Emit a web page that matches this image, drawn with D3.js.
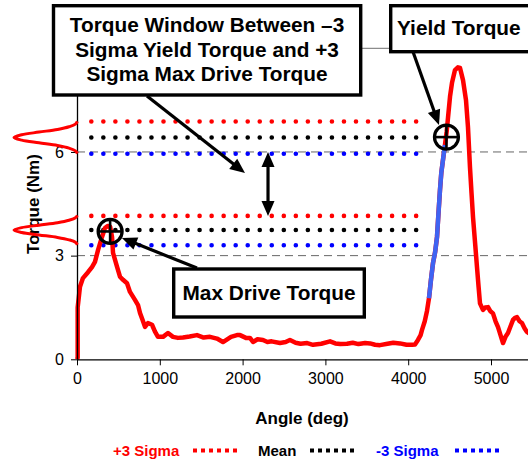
<!DOCTYPE html>
<html>
<head>
<meta charset="utf-8">
<script src="https://cdn.jsdelivr.net/npm/d3@7/dist/d3.min.js"></script>
<style>
  html, body { margin: 0; padding: 0; background: #fff; }
  svg { display: block; font-family: "Liberation Sans", Arial, sans-serif; }
</style>
</head>
<body>
<svg id="chart" width="528" height="461"></svg>
<script>
// ---------------- DATA ----------------
const angleDeg = [0, 8, 8, 36, 72, 133, 181, 217, 254, 302, 338, 370, 400, 423, 435, 483, 519, 556, 604, 640, 700, 737, 761, 790, 821, 857, 906, 942, 978, 1039, 1099, 1159, 1220, 1280, 1360, 1449, 1530, 1606, 1690, 1763, 1860, 1932, 1969, 2040, 2089, 2126, 2180, 2246, 2300, 2350, 2452, 2520, 2572, 2640, 2700, 2780, 2850, 2950, 3056, 3120, 3180, 3261, 3330, 3400, 3480, 3539, 3600, 3659, 3750, 3820, 3900, 3980, 4046, 4082, 4118, 4150, 4167, 4200, 4227, 4251, 4275, 4300, 4325, 4348, 4365, 4384, 4400, 4425, 4444, 4465, 4481, 4505, 4529, 4565, 4600, 4626, 4662, 4698, 4722, 4746, 4765, 4783, 4810, 4831, 4850, 4867, 4903, 4930, 4964, 4990, 5024, 5055, 5085, 5115, 5145, 5175, 5205, 5235, 5266, 5290, 5314, 5345, 5374, 5405, 5435, 5460];
const torqueNm = [0, 0.05, 1.5, 2.1, 2.35, 2.52, 2.67, 2.82, 3.16, 3.54, 3.8, 3.86, 3.84, 3.54, 3.08, 2.68, 2.39, 2.3, 2.2, 1.95, 1.72, 1.57, 1.34, 1.15, 0.94, 1.05, 1.0, 0.8, 0.65, 0.65, 0.76, 0.65, 0.62, 0.63, 0.66, 0.7, 0.63, 0.65, 0.6, 0.5, 0.65, 0.7, 0.7, 0.62, 0.62, 0.5, 0.58, 0.56, 0.5, 0.52, 0.47, 0.5, 0.56, 0.48, 0.45, 0.47, 0.42, 0.45, 0.52, 0.46, 0.44, 0.45, 0.48, 0.44, 0.47, 0.46, 0.42, 0.41, 0.45, 0.48, 0.46, 0.42, 0.42, 0.43, 0.56, 0.7, 0.85, 1.1, 1.4, 1.77, 2.3, 2.79, 3.1, 3.54, 4.2, 4.9, 5.4, 5.86, 6.2, 6.6, 7.0, 7.6, 8.0, 8.37, 8.45, 8.43, 8.08, 7.5, 6.72, 5.56, 4.8, 4.11, 3.3, 2.66, 2.1, 1.62, 1.43, 1.5, 1.51, 1.4, 1.33, 1.1, 0.93, 0.7, 0.47, 0.65, 0.76, 0.95, 1.14, 1.2, 1.22, 1.1, 1.05, 0.9, 0.79, 0.75];

// yield ramp (drawn in blue)
const yieldRangeDeg = [4251, 4444];

// sigma bands: [+3 sigma, mean, -3 sigma]
const sigmaNames = ["+3 Sigma", "Mean", "-3 Sigma"];
const yieldSigmaNm = [6.88, 6.42, 5.95];
const driveSigmaNm = [4.15, 3.74, 3.30];
const sigmaLineDeg = [173, 4103];

// distribution profile (standard score vs relative density)
const profileZ = [-3, -2.5, -2, -1.5, -1, -0.5, 0, 0.5, 1, 1.5, 2, 2.5, 3];
const profileDensity = [0.01, 0.04, 0.14, 0.32, 0.61, 0.88, 1, 0.88, 0.61, 0.32, 0.14, 0.04, 0.01];

// annotated points
const maxDrivePoint = [400, 3.70];
const yieldPoint = [4462, 6.43];

const xTicks = [0, 1000, 2000, 3000, 4000, 5000];
const yTicks = [0, 3, 6, 9];

// ---------------- LAYOUT ----------------
const svg = d3.select("#chart");
const X0 = 77, X1 = 532.4, Y0 = 359.3, Y1 = 48.3;
const x = d3.scaleLinear().domain([0, 5500]).range([X0, X1]);
const y = d3.scaleLinear().domain([0, 9]).range([Y0, Y1]);

const RED = "#ff0000", BLUE = "#0000ff", RAMP = "#3f63f2";
const sigmaColors = [RED, "#000000", BLUE];

// plot top border
svg.append("line").attr("x1", X0).attr("x2", X1).attr("y1", y(9)).attr("y2", y(9))
  .attr("stroke", "#8c8c8c").attr("stroke-width", 1.2);

// gridlines
svg.append("g").selectAll("line").data([3, 6]).join("line")
  .attr("x1", X0).attr("x2", X1).attr("y1", d => y(d)).attr("y2", d => y(d))
  .attr("stroke", "#666").attr("stroke-width", 1).attr("stroke-dasharray", "8,5");

// sigma dotted lines
function sigmaLines(vals) {
  svg.append("g").selectAll("line").data(vals).join("line")
    .attr("x1", x(sigmaLineDeg[0])).attr("x2", x(sigmaLineDeg[1]))
    .attr("y1", d => y(d)).attr("y2", d => y(d))
    .attr("stroke", (d, i) => sigmaColors[i])
    .attr("stroke-width", 4.6).attr("stroke-linecap", "round")
    .attr("stroke-dasharray", "0,12.03");
}
sigmaLines(yieldSigmaNm);
sigmaLines(driveSigmaNm);

// torque curve
const pts = angleDeg.map((a, i) => [a, torqueNm[i]]);
const line = d3.line().x(d => x(d[0])).y(d => y(d[1]));
svg.append("path").datum(pts).attr("d", line).attr("fill", "none")
  .attr("stroke", RED).attr("stroke-width", 4.5).attr("stroke-linejoin", "round");
const ramp = pts.filter(d => d[0] >= yieldRangeDeg[0] && d[0] <= yieldRangeDeg[1]);
svg.append("path").datum(ramp).attr("d", line).attr("fill", "none")
  .attr("stroke", RAMP).attr("stroke-width", 4.5).attr("stroke-linejoin", "round");

// axes
const xAxis = svg.append("g").attr("transform", `translate(0,${Y0})`)
  .call(d3.axisBottom(x).tickValues(xTicks).tickSize(6).tickPadding(7).tickFormat(d3.format("d")));
xAxis.select(".domain").attr("d", `M${X0},0.5H${X1}`).attr("stroke", "#000").attr("stroke-width", 1.3);
xAxis.selectAll("text").attr("font-size", 16).attr("fill", "#000").attr("font-family", "Liberation Sans, Arial");

const yAxis = svg.append("g").attr("transform", `translate(${X0},0)`)
  .call(d3.axisLeft(y).tickValues(yTicks).tickSize(6).tickPadding(7));
yAxis.select(".domain").attr("d", `M0.5,${Y0}V${Y1}`).attr("stroke", "#000").attr("stroke-width", 1.3);
yAxis.selectAll("text").attr("font-size", 16).attr("fill", "#000").attr("font-family", "Liberation Sans, Arial");

// axis titles
svg.append("text").attr("x", 302).attr("y", 424).attr("text-anchor", "middle")
  .attr("font-size", 17).attr("font-weight", "bold").text("Angle (deg)");
svg.append("text").attr("transform", "translate(39,204) rotate(-90)").attr("text-anchor", "middle")
  .attr("font-size", 17).attr("font-weight", "bold").text("Torque (Nm)");

// distribution profiles left of the axis
const dens = d3.scaleLinear().domain([0, 1]).range([X0 + 1, 14]);
function profile(vals) {
  const mean = vals[1], sigma = (vals[0] - vals[2]) / 6;
  const p = profileZ.map((z, i) => [dens(profileDensity[i]), y(mean + z * sigma)]);
  svg.append("path").datum(p).attr("d", d3.line().curve(d3.curveCatmullRom))
    .attr("fill", "none").attr("stroke", RED).attr("stroke-width", 3);
}
profile(yieldSigmaNm);
profile(driveSigmaNm);

// circle markers with crosshair
function crossCircle(pt) {
  const cx = x(pt[0]), cy = y(pt[1]), r = 12;
  const g = svg.append("g").attr("stroke", "#000").attr("stroke-width", 3.2).attr("fill", "none");
  g.append("circle").attr("cx", cx).attr("cy", cy).attr("r", r);
  g.append("line").attr("x1", cx - r).attr("x2", cx + r).attr("y1", cy).attr("y2", cy).attr("stroke-width", 2.6);
  g.append("line").attr("x1", cx).attr("x2", cx).attr("y1", cy - r).attr("y2", cy + r).attr("stroke-width", 2.6);
}
crossCircle(maxDrivePoint);
crossCircle(yieldPoint);

// arrows
function arrowHead(tip, from) {
  const dx = tip[0] - from[0], dy = tip[1] - from[1];
  const L = Math.hypot(dx, dy), ux = dx / L, uy = dy / L;
  const hl = 15, hw = 6.5;
  const bx = tip[0] - ux * hl, by = tip[1] - uy * hl;
  svg.append("path")
    .attr("d", `M${tip[0]},${tip[1]}L${bx - uy * hw},${by + ux * hw}L${bx + uy * hw},${by - ux * hw}Z`)
    .attr("fill", "#000");
  return [tip[0] - ux * (hl - 2), tip[1] - uy * (hl - 2)];
}
function arrow(fromD, toD, both) {
  let a = [x(fromD[0]), y(fromD[1])], b = [x(toD[0]), y(toD[1])];
  const bEnd = arrowHead(b, a);
  const aEnd = both ? arrowHead(a, b) : a;
  svg.append("line").attr("x1", aEnd[0]).attr("y1", aEnd[1]).attr("x2", bEnd[0]).attr("y2", bEnd[1])
    .attr("stroke", "#000").attr("stroke-width", 3.2);
}
arrow([845, 7.62], [2029, 5.39]);
arrow([2307, 6.0], [2307, 4.15], true);
arrow([4058, 8.9], [4372, 6.78]);
arrow([1449, 2.64], [543, 3.51]);

// boxes
function box(bx, by, bw, bh, lines, tx, ty, anchor) {
  svg.append("rect").attr("x", bx).attr("y", by).attr("width", bw).attr("height", bh)
    .attr("fill", "#fff").attr("stroke", "#000").attr("stroke-width", 3.4);
  lines.forEach((t, i) => {
    svg.append("text").attr("x", tx).attr("y", ty + i * 24.6).attr("text-anchor", anchor)
      .attr("font-size", 20.8).attr("font-weight", "bold").attr("fill", "#000").text(t);
  });
}
box(53.5, 5.7, 307.2, 89.3, ["Torque Window Between \u20133", "Sigma Yield Torque and +3", "Sigma Max Drive Torque"], 207, 32, "middle");
box(390.7, 5.7, 160, 46, ["Yield Torque"], 397, 35, "start");
box(173.7, 269, 190.6, 48, ["Max Drive Torque"], 269, 300, "middle");

// legend
const legendX = [[113, 193], [258, 310], [376, 455]];
sigmaNames.forEach((n, i) => {
  svg.append("text").attr("x", legendX[i][0]).attr("y", 456).attr("font-size", 15)
    .attr("font-weight", "bold").attr("fill", sigmaColors[i]).text(n);
  svg.append("line").attr("x1", legendX[i][1]).attr("x2", legendX[i][1] + 44)
    .attr("y1", 450.5).attr("y2", 450.5).attr("stroke", sigmaColors[i])
    .attr("stroke-width", 4).attr("stroke-dasharray", "4,4");
});
</script>
</body>
</html>
